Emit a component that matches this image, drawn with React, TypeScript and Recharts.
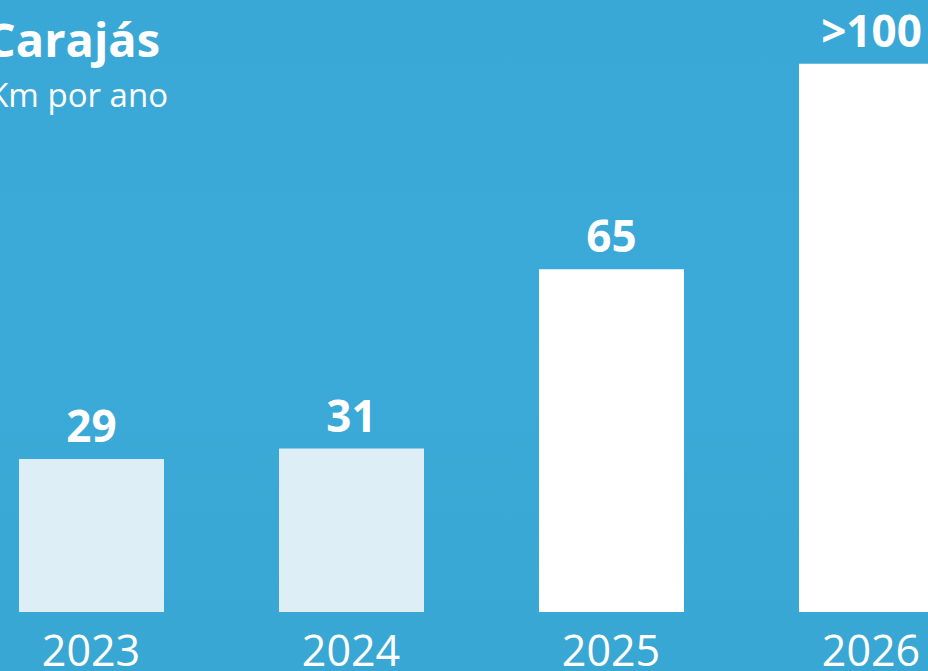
import { Bar, BarChart, Cell, LabelList, XAxis, YAxis } from "recharts";

const years = ["2023", "2024", "2025", "2026"];
const km = [29, 31, 65, 104];
const valueLabels = ["29", "31", "65", ">100"];
const barColors = ["#deeef7", "#deeef7", "#ffffff", "#ffffff"];

const data = years.map((year, i) => ({ year, km: km[i], label: valueLabels[i] }));

const FONT = "'Open Sans', sans-serif";

const YearTick = (props: any) => {
  const { x, y, payload } = props;
  return (
    <text x={x} y={y + 54} textAnchor="middle" fill="#ffffff" fontSize={43} fontFamily={FONT}>
      {payload.value}
    </text>
  );
};

const ValueLabel = (props: any) => {
  const { x, y, width, index } = props;
  return (
    <text
      x={x + width / 2}
      y={y - 17}
      textAnchor="middle"
      fill="#ffffff"
      fontSize={44}
      fontWeight={700}
      fontFamily={FONT}
    >
      {valueLabels[index]}
    </text>
  );
};

export default function App() {
  return (
    <div
      style={{
        position: "absolute",
        left: 0,
        top: 0,
        width: 928,
        height: 671,
        overflow: "hidden",
        background: "linear-gradient(180deg, #3aa8d6 0%, #3caad8 50%, #39a7d4 100%)",
        fontFamily: FONT,
      }}
    >
      <svg width={928} height={130} style={{ position: "absolute", left: 0, top: 0 }}>
        <text x={160} y={57} textAnchor="end" fill="#ffffff" fontSize={47} fontWeight={700} fontFamily={FONT}>
          Carajás
        </text>
        <text x={168} y={107} textAnchor="end" fill="#ffffff" fontSize={33} fontFamily={FONT}>
          Km por ano
        </text>
      </svg>
      <div style={{ position: "absolute", left: -39.5, top: 0 }}>
        <BarChart
          width={1040}
          height={700}
          data={data}
          margin={{ top: 32, right: 0, bottom: 28, left: 0 }}
          barSize={145}
        >
          <XAxis
            dataKey="year"
            axisLine={false}
            tickLine={false}
            tickSize={0}
            tickMargin={0}
            height={60}
            tick={<YearTick />}
            interval={0}
          />
          <YAxis hide domain={[0, 110]} />
          <Bar dataKey="km" isAnimationActive={false}>
            {data.map((d, i) => (
              <Cell key={d.year} fill={barColors[i]} />
            ))}
            <LabelList dataKey="label" content={<ValueLabel />} />
          </Bar>
        </BarChart>
      </div>
    </div>
  );
}
